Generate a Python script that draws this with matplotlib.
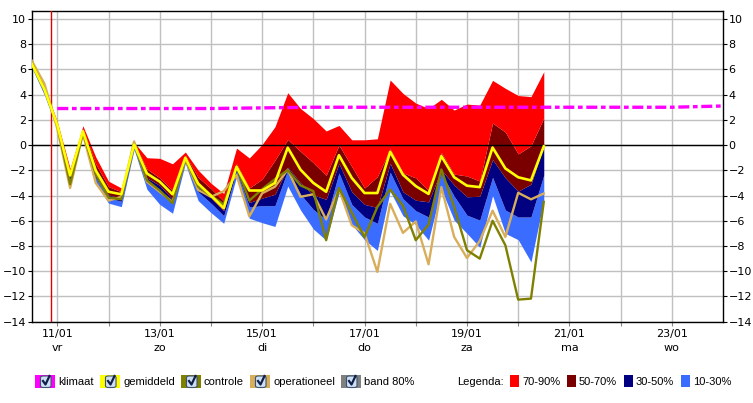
import numpy as np
import matplotlib
matplotlib.use("Agg")
import matplotlib.pyplot as plt
from matplotlib.patches import Rectangle, FancyBboxPatch
from matplotlib.lines import Line2D

# ---------------- data ----------------
times = 10.5 + 0.25 * np.arange(41)   # 6-hourly steps, day of January

p90 = [6.6, 4.65, 1.85, -1.85, 1.53, -0.93, -2.86, -3.4, 0.21, -1.0, -1.05, -1.48, -0.55, -1.98, -3.02, -3.84,
       -0.24, -1.02, 0.05, 1.45, 4.15, 2.9, 2.1, 1.12, 1.56, 0.42, 0.42, 0.5, 5.16, 4.1, 3.33, 2.9, 3.63, 2.78,
       3.25, 3.17, 5.13, 4.5, 3.93, 3.84, 5.82]
p70 = [6.5, 4.5, 1.7, -2.1, 1.3, -1.5, -3.3, -3.7, 0.15, -1.9, -2.6, -3.6, -0.8, -2.55, -3.45, -4.45,
       -1.47, -3.4, -2.7, -1.2, 0.45, -0.5, -1.4, -2.4, 0.0, -1.7, -3.4, -2.5, -0.3, -2.2, -2.6, -3.6, -0.6,
       -2.3, -2.45, -2.85, 1.75, 1.03, -0.7, -0.05, 2.15]
p50 = [6.45, 4.35, 1.55, -2.5, 1.1, -2.2, -3.95, -4.2, 0.0, -2.6, -3.2, -4.3, -1.1, -3.3, -4.2, -5.2,
       -1.7, -4.55, -4.2, -3.9, -1.75, -3.0, -3.95, -4.3, -1.45, -3.7, -4.7, -4.95, -1.45, -3.7, -4.37, -4.5,
       -1.95, -3.17, -4.1, -4.05, -1.15, -2.6, -3.65, -3.1, -0.05]
p30 = [6.35, 4.2, 1.4, -2.8, 0.95, -2.6, -4.2, -4.45, -0.15, -3.0, -3.6, -4.7, -1.25, -3.7, -4.6, -5.6,
       -2.05, -4.9, -4.8, -4.8, -2.0, -3.9, -5.1, -5.9, -2.2, -4.7, -5.7, -6.2, -2.15, -4.25, -5.2, -5.7,
       -2.25, -4.05, -5.55, -5.95, -2.55, -5.15, -5.7, -5.7, -2.38]
p10 = [6.15, 3.95, 1.2, -3.2, 0.8, -3.05, -4.6, -4.88, -0.35, -3.5, -4.7, -5.4, -1.45, -4.4, -5.35, -6.2,
       -2.5, -5.8, -6.15, -6.45, -3.25, -5.15, -6.65, -7.54, -3.8, -6.3, -7.5, -8.35, -3.65, -5.6, -6.3, -7.54,
       -3.5, -5.95, -7.0, -8.1, -4.0, -7.0, -7.5, -9.26, -4.37]

gemiddeld = [6.45, 4.4, 1.6, -2.4, 1.1, -2.0, -3.7, -3.9, 0.05, -2.25, -2.9, -3.9, -1.0, -3.05, -4.0, -5.0,
             -1.72, -3.6, -3.6, -3.0, -0.2, -1.95, -3.0, -3.7, -0.8, -2.6, -3.8, -3.8, -0.53, -2.35, -3.25, -3.87,
             -0.87, -2.55, -3.22, -3.33, -0.19, -1.85, -2.55, -2.8, -0.1]
controle = [6.5, 4.4, 1.6, -3.1, 1.0, -2.3, -4.15, -4.3, 0.1, -2.8, -3.6, -4.6, -1.06, -3.3, -4.0, -4.7,
            -1.7, -4.4, -3.5, -2.7, -1.98, -3.2, -3.65, -7.54, -3.4, -5.35, -7.3, -4.9, -3.52, -4.8, -7.54, -6.3,
            -1.93, -4.9, -8.33, -9.0, -6.0, -7.94, -12.25, -12.17, -4.5]
operationeel = [6.7, 4.85, 1.3, -3.4, 0.9, -3.0, -4.4, -4.1, 0.3, -2.9, -3.7, -4.5, -1.14, -3.55, -4.1, -3.65,
                -2.38, -5.65, -3.82, -3.3, -1.95, -4.1, -3.9, -5.9, -3.5, -6.35, -7.0, -10.05, -4.65, -6.96, -6.05,
                -9.45, -3.33, -7.28, -8.95, -7.6, -5.2, -7.28, -3.78, -4.3, -3.84]

klimaat_days = [11, 12, 13, 14, 15, 16, 17, 18, 19, 20, 21, 22, 23, 24]
klimaat = [2.9, 2.9, 2.9, 2.9, 2.95, 3.0, 3.0, 3.0, 3.0, 3.0, 3.0, 3.0, 3.0, 3.1]

tick_days = [11, 13, 15, 17, 19, 21, 23]
tick_dates = ["11/01", "13/01", "15/01", "17/01", "19/01", "21/01", "23/01"]
tick_weekdays = ["vr", "zo", "di", "do", "za", "ma", "wo"]
now_day = 10.875

legend_lines = ["klimaat", "gemiddeld", "controle", "operationeel", "band 80%"]
legend_line_colors = ["#ff00ff", "#ffff00", "#808000", "#d8ae5a", "#808080"]
band_labels = ["70-90%", "50-70%", "30-50%", "10-30%"]
band_colors = ["#ff0000", "#7a0000", "#000080", "#3a6cff"]

# ---------------- figure ----------------
W, H = 753, 403
fig = plt.figure(figsize=(W / 100, H / 100), dpi=100)
ax = fig.add_axes([31.7 / W, 1 - 321.7 / H, (723 - 31.7) / W, (321.7 - 11) / H])

ax.set_xlim(10.5, 24.0)
ax.set_ylim(-14, 10.63)

ax.set_axisbelow(True)
ax.set_xticks(np.arange(11, 24), minor=False)
ax.xaxis.grid(True, color="#c0c0c0", lw=1)
ax.set_yticks(np.arange(-14, 11, 2))
ax.yaxis.grid(True, color="#c0c0c0", lw=1)

# bands
ax.fill_between(times, p10, p30, color=band_colors[3], lw=0, zorder=2)
ax.fill_between(times, p30, p50, color=band_colors[2], lw=0, zorder=2)
ax.fill_between(times, p50, p70, color=band_colors[1], lw=0, zorder=2)
ax.fill_between(times, p70, p90, color=band_colors[0], lw=0, zorder=2)

ax.axhline(0, color="black", lw=1, zorder=3)
ax.axvline(now_day, color="#e00000", lw=1, zorder=3)

ax.plot(times, operationeel, color=legend_line_colors[3], lw=1.7, zorder=4)
ax.plot(times, controle, color=legend_line_colors[2], lw=1.7, zorder=4)
ax.plot(times, gemiddeld, color=legend_line_colors[1], lw=1.9, zorder=5)
kl, = ax.plot(klimaat_days, klimaat, color=legend_line_colors[0], lw=2.4, zorder=5)
kl.set_dashes([3.3, 1.1, 1.4, 1.1])

# ticks
labels = []
for d in np.arange(11, 24):
    if d in tick_days:
        i = tick_days.index(d)
        labels.append(tick_dates[i] + "\n" + tick_weekdays[i])
    else:
        labels.append("")
ax.set_xticklabels(labels, fontsize=8, family="DejaVu Sans", linespacing=1.45)
ax.tick_params(axis="x", direction="out", length=3, pad=2.5, color="#888888")
ax.tick_params(axis="y", direction="out", length=3, pad=1, labelsize=8,
               left=True, right=True, labelleft=True, labelright=True)
for lab in ax.get_yticklabels():
    lab.set_family("DejaVu Sans")

for s in ax.spines.values():
    s.set_color("black")
    s.set_linewidth(1)

# ---------------- legend ----------------
def fx(px):
    return px / W

def fy(py):
    return 1 - py / H

def checkbox(x0, color):
    fig.add_artist(Rectangle((fx(x0), fy(388)), fx(20), 13 / H, facecolor=color,
                             edgecolor="none", transform=fig.transFigure))
    fig.add_artist(FancyBboxPatch((fx(x0 + 5.5), fy(387.5)), fx(10.5), 11.5 / H,
                                  boxstyle="round,pad=0,rounding_size=0.004",
                                  facecolor="#cfe0f3", edgecolor="#3c5470", lw=0.8,
                                  transform=fig.transFigure))
    fig.add_artist(Line2D([fx(x0 + 8), fx(x0 + 10.5), fx(x0 + 14.5)],
                          [fy(381), fy(384.5), fy(376)], color="#10204a", lw=1.6,
                          transform=fig.transFigure))

leg_x = [35, 100, 181, 250, 341]
for x0, name, col in zip(leg_x, legend_lines, legend_line_colors):
    checkbox(x0, col)
    fig.text(fx(x0 + 23), fy(381.7), name, fontsize=8, family="Liberation Sans",
             va="center", ha="left")

fig.text(fx(457), fy(381.7), "Legenda:", fontsize=8, family="Liberation Sans",
         va="center", ha="left")
band_x = [510, 567, 624, 681]
for x0, name, col in zip(band_x, band_labels, band_colors):
    fig.add_artist(Rectangle((fx(x0), fy(387)), fx(9), 12 / H, facecolor=col,
                             edgecolor="none", transform=fig.transFigure))
    fig.text(fx(x0 + 12), fy(381.7), name, fontsize=8, family="Liberation Sans",
             va="center", ha="left")

fig.savefig("out.png", dpi=100)
